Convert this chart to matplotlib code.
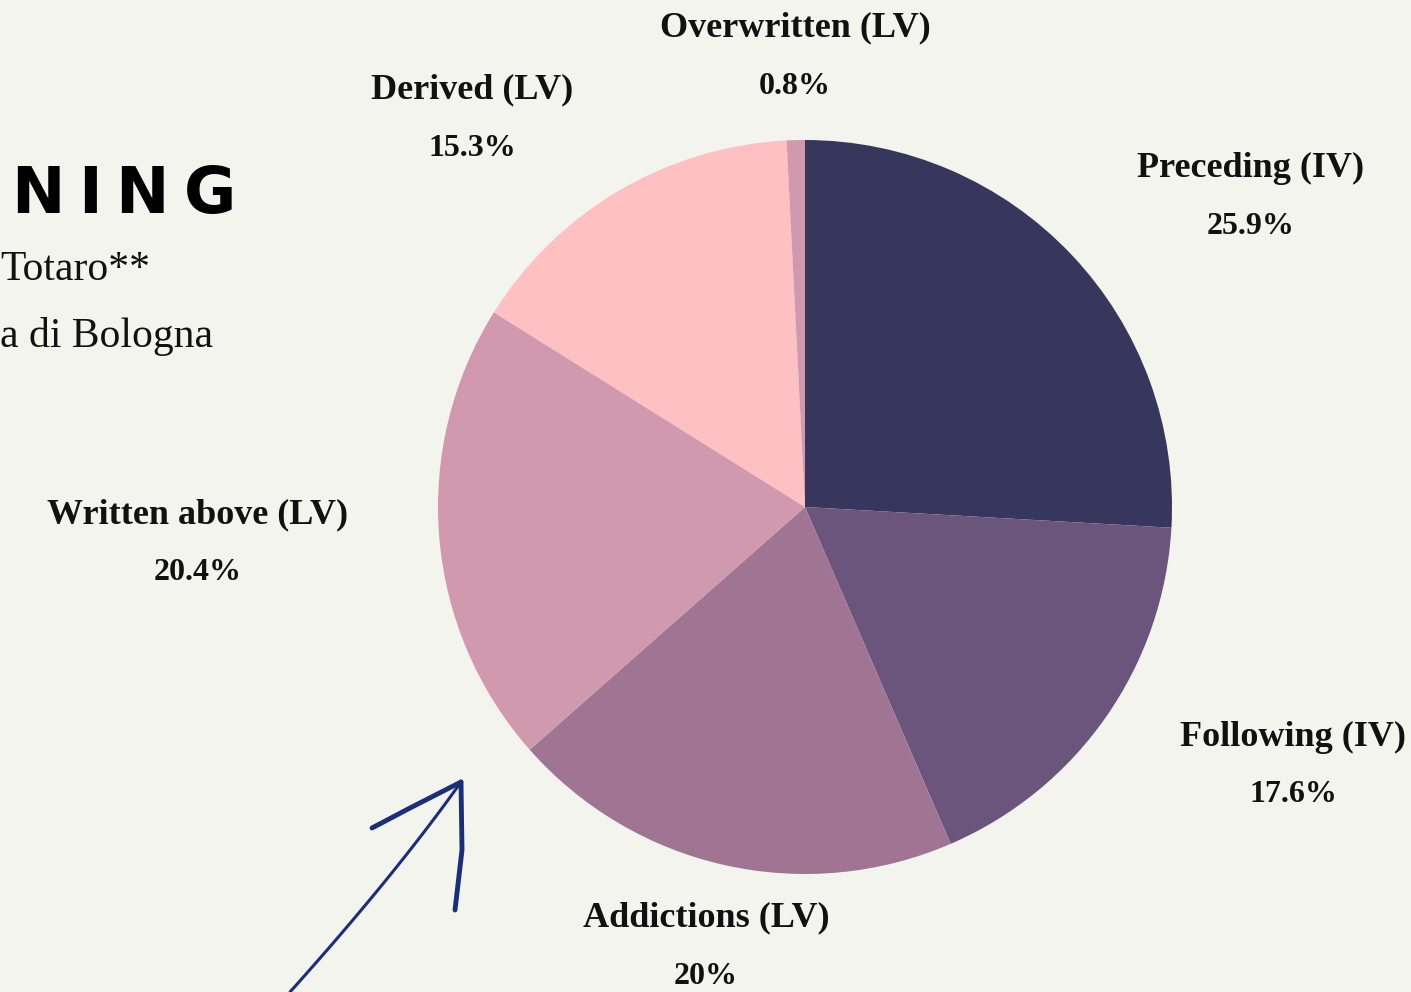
import matplotlib.pyplot as plt
import numpy as np

# slice data, clockwise from the top
labels = ['Preceding (IV)', 'Following (IV)', 'Addictions (LV)',
          'Written above (LV)', 'Derived (LV)', 'Overwritten (LV)']
values = [25.9, 17.6, 20.0, 20.4, 15.3, 0.8]
pct_text = ['25.9%', '17.6%', '20%', '20.4%', '15.3%', '0.8%']
colors = ['#37375e', '#6b557c', '#a07594', '#d199ae', '#fec0c2', '#d199ae']

# label anchor (x, y) in pixels, one per slice
label_pos = [(1251, 168), (1293, 737), (706, 918),
             (198, 515), (472, 90), (795, 28)]

bg = '#f4f4ef'
fig = plt.figure(figsize=(14.11, 9.92), dpi=100, facecolor=bg)
ax = fig.add_axes([0, 0, 1, 1])
ax.set_facecolor(bg)

# y axis runs downward, so counterclock=True draws clockwise on screen
ax.pie(values, colors=colors, center=(805, 507), radius=367,
       startangle=-90, counterclock=True,
       wedgeprops=dict(linewidth=0, antialiased=True))
ax.set_xlim(0, 1411)
ax.set_ylim(992, 0)
ax.set_aspect('equal')
ax.axis('off')

serif = ['Liberation Serif', 'DejaVu Serif']
for lab, p, (x, y) in zip(labels, pct_text, label_pos):
    ax.text(x, y, lab, ha='center', va='center', fontsize=26,
            fontweight='bold', family=serif, color='#111111')
    ax.text(x, y + 58, p, ha='center', va='center', fontsize=23,
            fontweight='bold', family=serif, color='#111111')

# bits of the poster title on the left, cut by the crop
for ch, x in zip('NING', [38, 90, 142, 210]):
    ax.text(x, 195, ch, ha='center', va='center', fontsize=46,
            fontweight='bold', family=['DejaVu Sans'], color='#000000')
ax.text(150, 270, 'Totaro**', ha='right', va='center', fontsize=30,
        family=serif, color='#111111')
ax.text(213, 337, 'a di Bologna', ha='right', va='center', fontsize=30,
        family=serif, color='#111111')

# hand drawn arrow
navy = '#1b2e78'
t = np.linspace(0, 1, 40)
sx, sy = 290, 992
cx, cy = 395, 875
ex, ey = 461, 782
ax.plot((1 - t)**2 * sx + 2 * (1 - t) * t * cx + t**2 * ex,
        (1 - t)**2 * sy + 2 * (1 - t) * t * cy + t**2 * ey,
        color=navy, lw=2.2, solid_capstyle='round')
ax.plot([372, 410, 461], [828, 808, 782], color=navy, lw=3.5, solid_capstyle='round')
ax.plot([461, 462, 455], [782, 850, 910], color=navy, lw=3.5, solid_capstyle='round')

fig.savefig('out.png', dpi=100, facecolor=bg)
